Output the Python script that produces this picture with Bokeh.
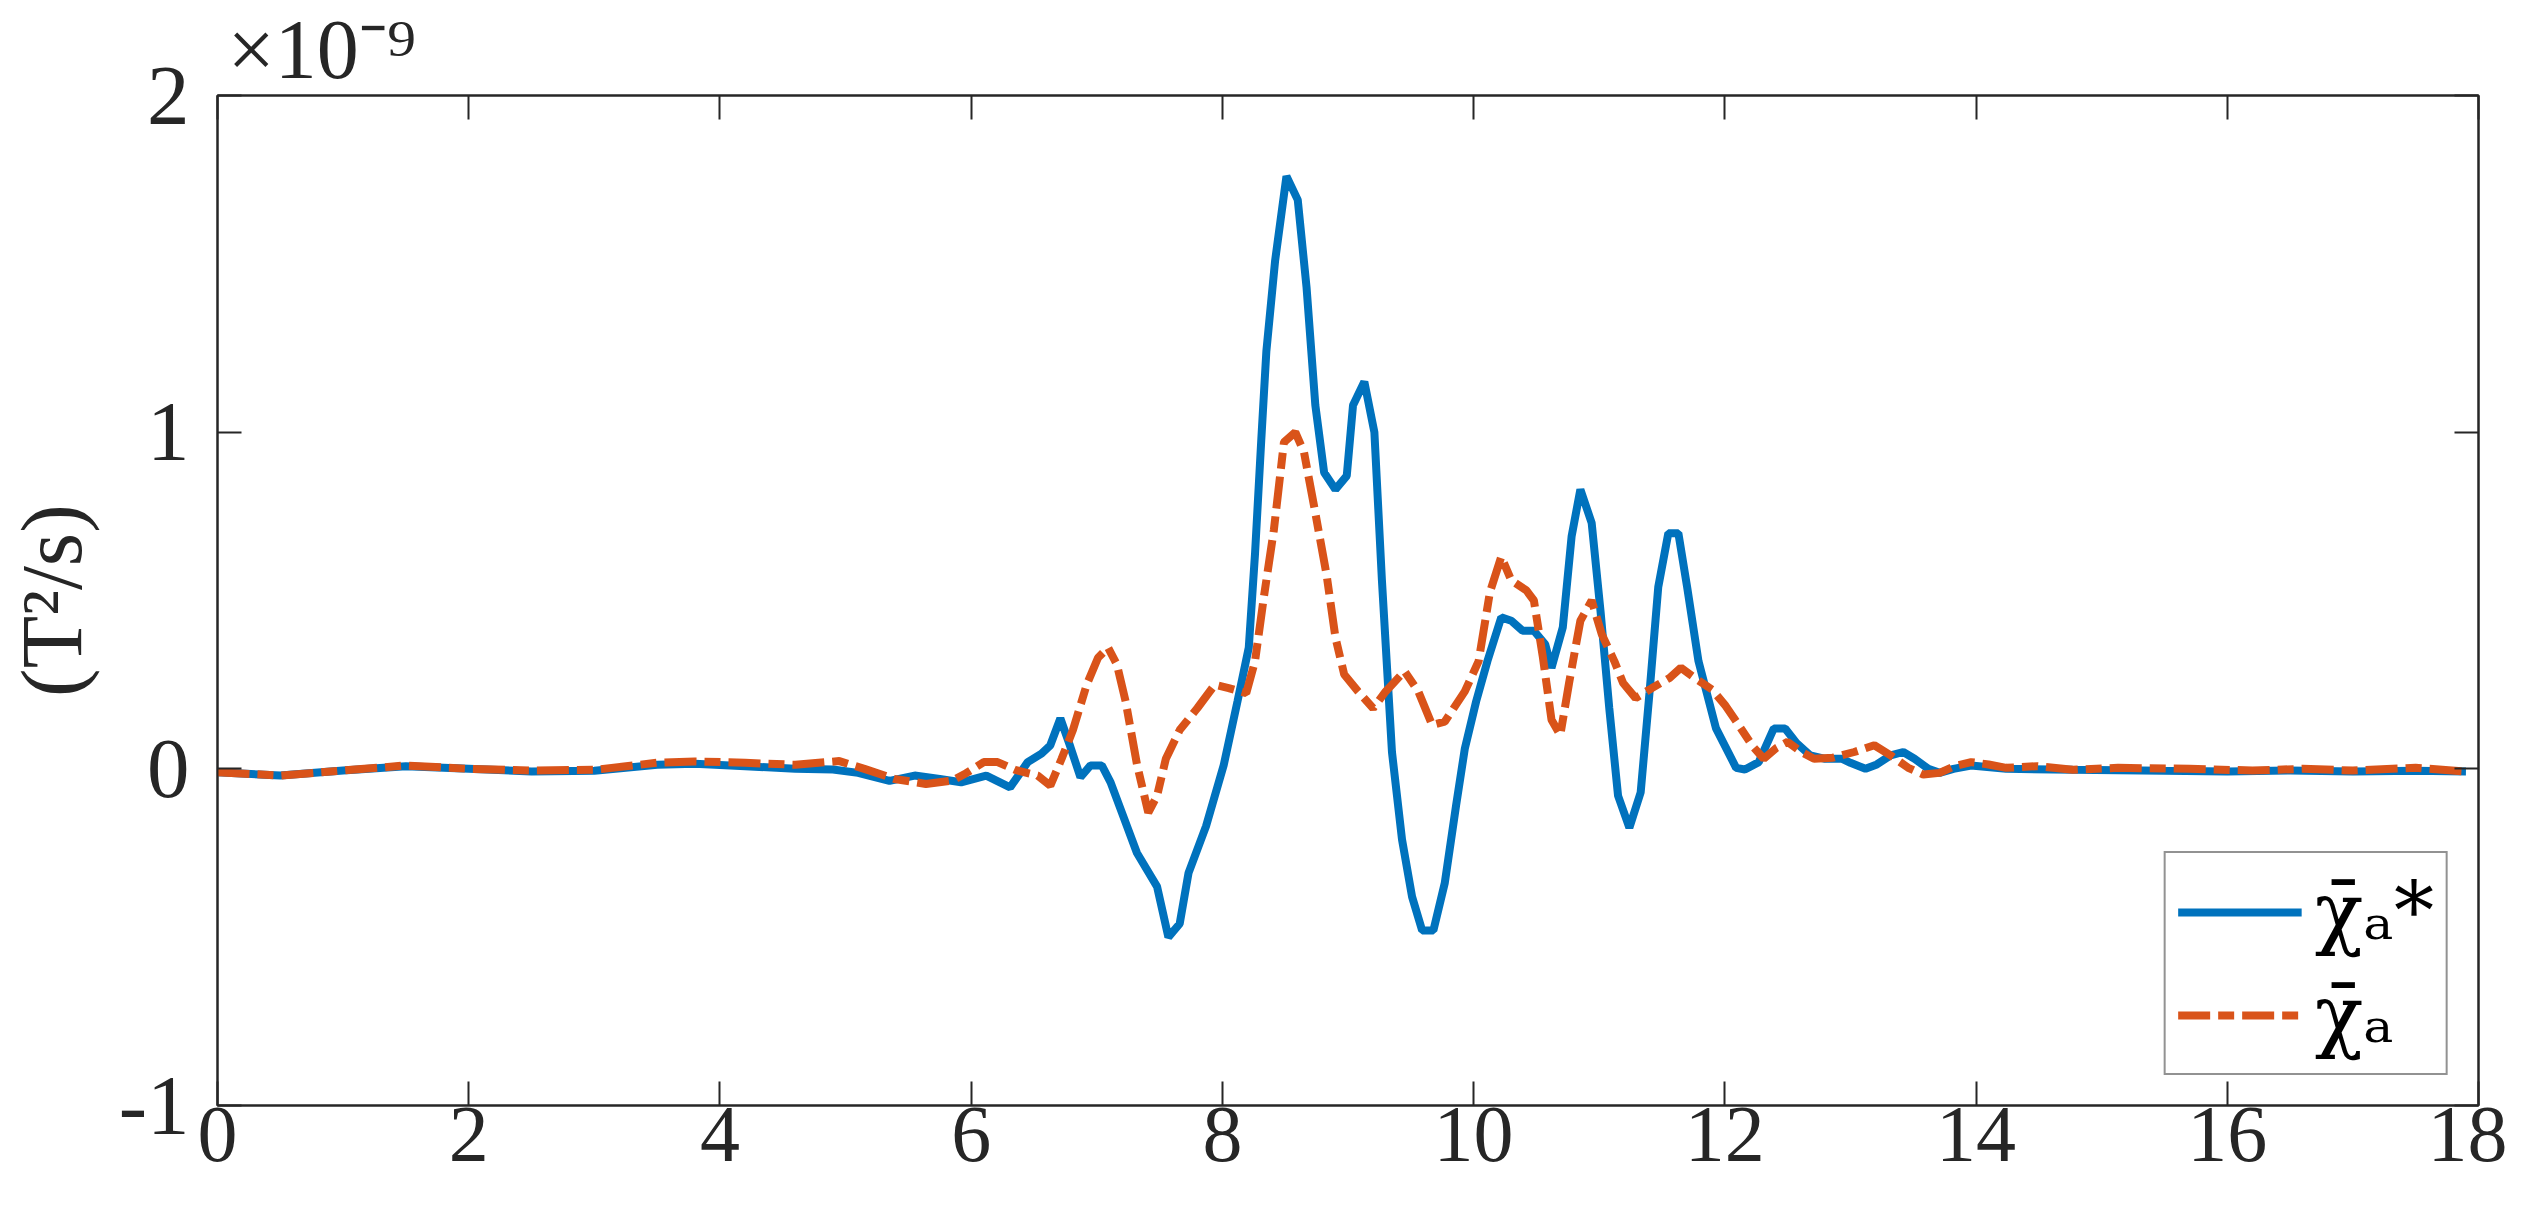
from bokeh.plotting import figure
from bokeh.models import LinearAxis, FixedTicker, Range1d, Legend, LegendItem
from bokeh.embed import file_html
from bokeh.resources import INLINE

# ---- data (values in units of 1e-9 T^2/s) ----
blue_x = [0.0, 0.5, 1.0, 1.5, 2.0, 2.5, 3.0, 3.5, 3.8, 4.2, 4.6, 4.9, 5.1, 5.35, 5.55, 5.75,
          5.92, 6.12, 6.31, 6.45, 6.56, 6.63, 6.71, 6.79, 6.87, 6.95, 7.04, 7.11, 7.20, 7.32,
          7.48, 7.57, 7.66, 7.73, 7.87, 8.01, 8.12, 8.21, 8.26, 8.31, 8.35, 8.42, 8.51, 8.60,
          8.67, 8.74, 8.81, 8.90, 8.99, 9.04, 9.13, 9.21, 9.27, 9.35, 9.43, 9.51, 9.59, 9.68,
          9.77, 9.86, 9.93, 10.02, 10.11, 10.22, 10.30, 10.39, 10.48, 10.57, 10.62, 10.71,
          10.78, 10.85, 10.94, 11.01, 11.08, 11.15, 11.24, 11.33, 11.40, 11.47, 11.55, 11.63,
          11.70, 11.79, 11.86, 11.93, 12.09, 12.16, 12.27, 12.39, 12.48, 12.57, 12.68, 12.79,
          12.93, 13.00, 13.12, 13.21, 13.32, 13.42, 13.51, 13.62, 13.71, 13.82, 13.96, 14.24,
          14.77, 15.5, 16.0, 16.5, 17.0, 17.5, 17.9]
blue_y = [-0.01, -0.02, -0.005, 0.008, 0.0, -0.008, -0.006, 0.012, 0.015, 0.008, 0.0, -0.002,
          -0.012, -0.036, -0.02, -0.03, -0.04, -0.02, -0.055, 0.02, 0.045, 0.07, 0.15, 0.065,
          -0.025, 0.01, 0.01, -0.04, -0.13, -0.25, -0.35, -0.50, -0.46, -0.31, -0.17, 0.01,
          0.20, 0.36, 0.64, 0.98, 1.24, 1.51, 1.76, 1.69, 1.43, 1.08, 0.88, 0.83, 0.87, 1.08,
          1.15, 1.00, 0.56, 0.05, -0.21, -0.38, -0.48, -0.48, -0.34, -0.11, 0.06, 0.20, 0.32,
          0.45, 0.44, 0.41, 0.41, 0.37, 0.30, 0.42, 0.69, 0.83, 0.73, 0.47, 0.18, -0.08,
          -0.175, -0.07, 0.225, 0.54, 0.70, 0.70, 0.54, 0.32, 0.22, 0.12, 0.003, -0.002, 0.02,
          0.12, 0.12, 0.077, 0.04, 0.03, 0.03, 0.018, 0.0, 0.013, 0.04, 0.05, 0.03, 0.0,
          -0.012, 0.0, 0.01, 0.0, -0.003, -0.006, -0.008, -0.005, -0.008, -0.006, -0.008]

red_x = [0.0, 0.5, 1.0, 1.5, 2.0, 2.5, 3.0, 3.5, 3.8, 4.2, 4.6, 4.95, 5.15, 5.39, 5.64, 5.85,
         5.96, 6.10, 6.21, 6.35, 6.53, 6.63, 6.72, 6.81, 6.92, 7.01, 7.09, 7.16, 7.23, 7.32,
         7.41, 7.48, 7.55, 7.66, 7.80, 7.94, 8.05, 8.19, 8.26, 8.33, 8.41, 8.49, 8.58, 8.65,
         8.74, 8.83, 8.90, 8.97, 9.08, 9.20, 9.30, 9.45, 9.56, 9.67, 9.77, 9.93, 10.04, 10.13,
         10.22, 10.30, 10.42, 10.48, 10.55, 10.62, 10.69, 10.76, 10.85, 10.94, 11.02, 11.12,
         11.19, 11.29, 11.42, 11.56, 11.65, 11.76, 11.90, 12.00, 12.11, 12.22, 12.31, 12.41,
         12.50, 12.61, 12.71, 12.86, 13.03, 13.19, 13.32, 13.46, 13.58, 13.71, 13.83, 13.96,
         14.10, 14.24, 14.49, 14.77, 15.13, 15.7, 16.2, 16.6, 17.0, 17.5, 17.9]
red_y = [-0.01, -0.02, -0.005, 0.01, 0.0, -0.005, -0.003, 0.018, 0.022, 0.018, 0.012, 0.023,
         0.0, -0.03, -0.045, -0.035, -0.013, 0.02, 0.02, -0.003, -0.02, -0.05, 0.03, 0.115,
         0.25, 0.33, 0.36, 0.31, 0.20, 0.013, -0.13, -0.08, 0.03, 0.115, 0.18, 0.25, 0.24,
         0.225, 0.32, 0.51, 0.71, 0.97, 1.00, 0.94, 0.76, 0.575, 0.39, 0.28, 0.23, 0.18, 0.23,
         0.29, 0.23, 0.13, 0.14, 0.23, 0.32, 0.525, 0.63, 0.56, 0.53, 0.50, 0.335, 0.146,
         0.10, 0.255, 0.44, 0.50, 0.40, 0.32, 0.255, 0.21, 0.24, 0.27, 0.30, 0.27, 0.235,
         0.19, 0.13, 0.068, 0.03, 0.062, 0.08, 0.05, 0.03, 0.033, 0.05, 0.07, 0.04, 0.003,
         -0.017, -0.012, 0.008, 0.02, 0.013, 0.003, 0.008, -0.003, 0.003, 0.0, -0.005, 0.0,
         -0.005, 0.003, -0.008]

x_ticks = [0, 2, 4, 6, 8, 10, 12, 14, 16, 18]
y_ticks = [-1, 0, 1, 2]
y_tick_labels = ["-1", "0", "1", "2"]
y_label = "(T²/s)"
exponent_label = "×10⁻⁹"
legend_labels = ["χ̄ₐ*", "χ̄ₐ"]

BLUE = "#0072BD"
ORANGE = "#D95319"
AXC = "#262626"
FONT = "Liberation Serif"

p = figure(width=2507, height=1196, output_backend="svg", toolbar_location=None,
           x_range=Range1d(0, 18), y_range=Range1d(-1, 2),
           min_border_left=214, min_border_right=29, min_border_top=94, min_border_bottom=91)
p.background_fill_color = "white"
p.border_fill_color = "white"
p.grid.visible = False
p.outline_line_color = AXC
p.outline_line_width = 2

r_blue = p.line(blue_x, blue_y, line_color=BLUE, line_width=8)
r_red = p.line(red_x, red_y, line_color=ORANGE, line_width=8, line_dash="32 8 16 8")

def style_axis(ax):
    ax.axis_line_color = AXC
    ax.axis_line_width = 2
    ax.major_tick_line_color = AXC
    ax.major_tick_line_width = 2
    ax.major_tick_in = 24
    ax.major_tick_out = 0
    ax.minor_tick_line_color = None
    ax.major_label_text_font = FONT
    ax.major_label_text_color = AXC

xa = p.xaxis[0]
xa.ticker = FixedTicker(ticks=x_ticks)
style_axis(xa)
xa.major_label_text_font_size = "80px"
xa.major_label_standoff = 2

ya = p.yaxis[0]
ya.ticker = FixedTicker(ticks=y_ticks)
ya.major_label_overrides = {t: s for t, s in zip(y_ticks, y_tick_labels)}
style_axis(ya)
ya.major_label_text_font_size = "85px"
ya.major_label_standoff = 28
ya.axis_label = y_label
ya.axis_label_text_font = FONT
ya.axis_label_text_font_size = "86px"
ya.axis_label_text_font_style = "normal"
ya.axis_label_text_color = AXC
ya.axis_label_standoff = 16

top_ax = LinearAxis(ticker=FixedTicker(ticks=x_ticks),
                    major_label_overrides={t: "" for t in x_ticks})
style_axis(top_ax)
top_ax.major_label_text_font_size = "1px"
top_ax.major_label_standoff = 0
p.add_layout(top_ax, "above")

right_ax = LinearAxis(ticker=FixedTicker(ticks=y_ticks),
                      major_label_overrides={t: "" for t in y_ticks})
style_axis(right_ax)
right_ax.major_label_text_font_size = "1px"
right_ax.major_label_standoff = 0
p.add_layout(right_ax, "right")

p.title.text = exponent_label
p.title.align = "left"
p.title.offset = 10
p.title.text_font = FONT
p.title.text_font_size = "84px"
p.title.text_font_style = "normal"
p.title.text_color = AXC
p.title.standoff = 0

legend = Legend(items=[LegendItem(label=legend_labels[0], renderers=[r_blue]),
                       LegendItem(label=legend_labels[1], renderers=[r_red])],
                location="bottom_right")
legend.margin = 30
legend.padding = 12
legend.spacing = 10
legend.glyph_width = 124
legend.glyph_height = 60
legend.label_standoff = 13
legend.label_text_font = "DejaVu Serif"
legend.label_text_font_size = "80px"
legend.label_text_color = "black"
legend.border_line_color = AXC
legend.border_line_width = 2
legend.background_fill_color = "white"
legend.background_fill_alpha = 1.0
p.add_layout(legend, "center")

open("out.html", "w").write(file_html(p, INLINE))
